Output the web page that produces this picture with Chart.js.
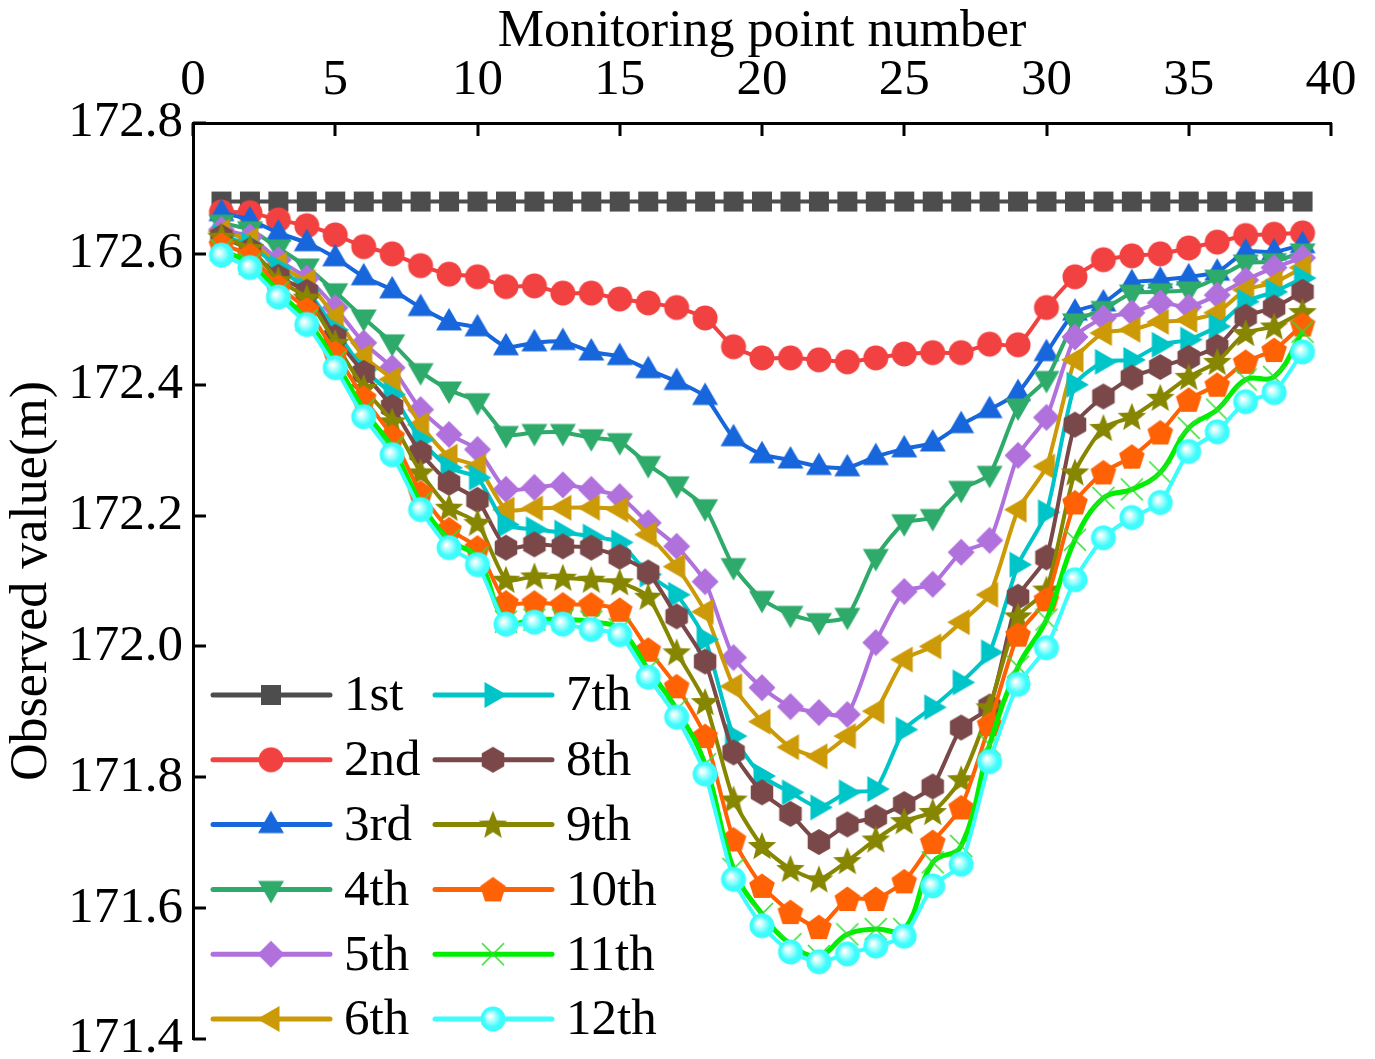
<!DOCTYPE html>
<html>
<head>
<meta charset="utf-8">
<script src="https://cdn.jsdelivr.net/npm/chart.js@4/dist/chart.umd.min.js"></script>
<style>
html, body { margin: 0; padding: 0; background: #fff; }
</style>
</head>
<body>
<canvas id="c" width="1375" height="1059"></canvas>
<script>
// monitoring point numbers (x)
var pointNo = [1,2,3,4,5,6,7,8,9,10,11,12,13,14,15,16,17,18,19,20,21,22,23,24,25,26,27,28,29,30,31,32,33,34,35,36,37,38,39];

var names = ['1st','2nd','3rd','4th','5th','6th','7th','8th','9th','10th','11th','12th'];

var xTicks = [0, 5, 10, 15, 20, 25, 30, 35, 40];
var yTicks = [171.4, 171.6, 171.8, 172.0, 172.2, 172.4, 172.6, 172.8];

// observed values (m) per survey
var s1 = [172.68,172.68,172.68,172.68,172.68,172.68,172.68,172.68,172.68,172.68,172.68,172.68,172.68,172.68,172.68,172.68,172.68,172.68,172.68,172.68,172.68,172.68,172.68,172.68,172.68,172.68,172.68,172.68,172.68,172.68,172.68,172.68,172.68,172.68,172.68,172.68,172.68,172.68,172.68];
var s2 = [172.664,172.663,172.652,172.643,172.629,172.611,172.600,172.582,172.569,172.565,172.550,172.551,172.540,172.540,172.531,172.525,172.518,172.502,172.458,172.441,172.441,172.438,172.435,172.441,172.447,172.449,172.449,172.462,172.461,172.518,172.565,172.591,172.597,172.600,172.609,172.618,172.628,172.630,172.632];
var s3 = [172.663,172.652,172.632,172.617,172.594,172.565,172.545,172.518,172.496,172.487,172.458,172.464,172.466,172.450,172.443,172.423,172.405,172.382,172.319,172.293,172.285,172.275,172.273,172.290,172.302,172.311,172.339,172.362,172.388,172.449,172.511,172.525,172.556,172.560,172.565,172.572,172.603,172.603,172.614];
var s4 = [172.647,172.637,172.609,172.580,172.542,172.502,172.464,172.420,172.392,172.374,172.324,172.327,172.327,172.319,172.313,172.278,172.247,172.212,172.122,172.072,172.049,172.038,172.046,172.136,172.189,172.197,172.240,172.263,172.366,172.408,172.496,172.515,172.540,172.542,172.545,172.563,172.586,172.588,172.603];
var s5 = [172.637,172.626,172.591,172.563,172.518,172.464,172.426,172.362,172.324,172.301,172.240,172.243,172.247,172.240,172.229,172.189,172.153,172.099,171.983,171.937,171.908,171.899,171.896,172.006,172.084,172.095,172.144,172.162,172.292,172.350,172.473,172.502,172.510,172.525,172.519,172.537,172.560,172.579,172.594];
var s6 = [172.634,172.621,172.583,172.557,172.504,172.443,172.408,172.339,172.290,172.275,172.209,172.211,172.212,172.212,172.209,172.171,172.122,172.053,171.939,171.885,171.846,171.832,171.863,171.901,171.980,172.000,172.037,172.079,172.209,172.275,172.438,172.479,172.484,172.496,172.499,172.510,172.545,172.556,172.579];
var s7 = [172.627,172.614,172.579,172.545,172.484,172.423,172.385,172.316,172.273,172.258,172.186,172.179,172.174,172.168,172.159,172.110,172.079,172.011,171.863,171.802,171.777,171.754,171.777,171.782,171.873,171.907,171.945,171.991,172.125,172.205,172.400,172.435,172.438,172.461,172.469,172.489,172.527,172.542,172.563];
var s8 = [172.626,172.606,172.565,172.542,172.473,172.418,172.366,172.296,172.250,172.224,172.151,172.156,172.153,172.151,172.137,172.113,172.046,171.977,171.838,171.777,171.744,171.701,171.728,171.739,171.759,171.786,171.876,171.908,172.076,172.136,172.339,172.382,172.411,172.427,172.441,172.458,172.504,172.518,172.542];
var s9 = [172.626,172.609,172.560,172.533,172.464,172.395,172.344,172.266,172.212,172.189,172.102,172.107,172.105,172.102,172.098,172.076,171.991,171.915,171.766,171.695,171.660,171.644,171.672,171.705,171.733,171.747,171.797,171.907,172.046,172.087,172.266,172.334,172.351,172.380,172.412,172.435,172.479,172.489,172.511];
var s10 = [172.614,172.598,172.550,172.515,172.449,172.380,172.321,172.235,172.179,172.151,172.067,172.067,172.064,172.064,172.056,171.995,171.939,171.863,171.705,171.634,171.594,171.571,171.614,171.614,171.641,171.701,171.754,171.881,172.018,172.072,172.220,172.266,172.290,172.327,172.377,172.400,172.435,172.453,172.492];
var s11 = [172.606,172.585,172.542,172.499,172.435,172.362,172.304,172.220,172.163,172.136,172.038,172.041,172.041,172.038,172.026,171.965,171.904,171.820,171.660,171.591,171.545,171.527,171.560,171.568,171.568,171.670,171.695,171.850,171.969,172.041,172.163,172.227,172.240,172.266,172.334,172.362,172.408,172.412,172.481];
var s12 = [172.598,172.579,172.534,172.492,172.426,172.351,172.293,172.209,172.151,172.125,172.034,172.037,172.034,172.026,172.018,171.953,171.892,171.805,171.644,171.573,171.533,171.518,171.530,171.542,171.557,171.634,171.667,171.824,171.942,171.998,172.102,172.166,172.197,172.220,172.298,172.328,172.374,172.388,172.450];

var series = [s1, s2, s3, s4, s5, s6, s7, s8, s9, s10, s11, s12];
var colors = ['#4d4d4d','#f24141','#1766dc','#2eaa6a','#b071dc','#cc9a06','#00c5c8','#7a4848','#868600','#ff6205','#00ee00','#3dfcfc'];
var shapes = ['square','circle','triUp','triDown','diamond','triLeft','triRight','hexagon','star','pentagon','cross','ball'];

var FONT = "'Liberation Serif', 'Times New Roman', serif";

function polygon(g, cx, cy, n, r, start) {
  g.beginPath();
  for (var k = 0; k < n; k++) {
    var a = start + k * 2 * Math.PI / n;
    var px = cx + r * Math.cos(a), py = cy + r * Math.sin(a);
    if (k == 0) g.moveTo(px, py); else g.lineTo(px, py);
  }
  g.closePath();
  g.fill();
}

function drawShape(g, shape, color, cx, cy) {
  g.fillStyle = color;
  g.strokeStyle = color;
  if (shape == 'square') {
    g.fillRect(cx - 10, cy - 10, 20, 20);
  } else if (shape == 'circle') {
    g.beginPath(); g.arc(cx, cy, 12.5, 0, Math.PI * 2); g.fill();
  } else if (shape == 'triUp') {
    polygon(g, cx, cy + 1, 3, 15, -Math.PI / 2);
  } else if (shape == 'triDown') {
    polygon(g, cx, cy - 1, 3, 15, Math.PI / 2);
  } else if (shape == 'triLeft') {
    polygon(g, cx + 1, cy, 3, 15, Math.PI);
  } else if (shape == 'triRight') {
    polygon(g, cx - 1, cy, 3, 15, 0);
  } else if (shape == 'diamond') {
    polygon(g, cx, cy, 4, 13.5, -Math.PI / 2);
  } else if (shape == 'hexagon') {
    polygon(g, cx, cy, 6, 13, -Math.PI / 2);
  } else if (shape == 'pentagon') {
    polygon(g, cx, cy + 1, 5, 13.5, -Math.PI / 2);
  } else if (shape == 'star') {
    g.beginPath();
    for (var k = 0; k < 10; k++) {
      var a = -Math.PI / 2 + k * Math.PI / 5;
      var r = (k % 2 == 0) ? 15 : 6.5;
      var px = cx + r * Math.cos(a), py = cy + 1 + r * Math.sin(a);
      if (k == 0) g.moveTo(px, py); else g.lineTo(px, py);
    }
    g.closePath(); g.fill();
  } else if (shape == 'cross') {
    g.strokeStyle = '#33dd33';
    g.lineWidth = 1.6;
    g.beginPath();
    g.moveTo(cx - 11, cy - 11); g.lineTo(cx + 11, cy + 11);
    g.moveTo(cx + 11, cy - 11); g.lineTo(cx - 11, cy + 11);
    g.stroke();
  } else if (shape == 'ball') {
    var grd = g.createRadialGradient(cx - 3, cy - 3, 1, cx, cy, 12.5);
    grd.addColorStop(0, '#ffffff');
    grd.addColorStop(0.35, '#9ffefe');
    grd.addColorStop(0.7, color);
    grd.addColorStop(1, color);
    g.fillStyle = grd;
    g.beginPath(); g.arc(cx, cy, 12.5, 0, Math.PI * 2); g.fill();
  }
}

function makeMarker(shape, color) {
  var c = document.createElement('canvas');
  c.width = 34; c.height = 34;
  drawShape(c.getContext('2d'), shape, color, 17, 17);
  return c;
}

var markers = shapes.map(function (s, i) { return makeMarker(s, colors[i]); });

var datasets = [];
for (var i = 0; i < series.length; i++) {
  var pts = [];
  for (var j = 0; j < pointNo.length; j++) {
    pts.push({ x: pointNo[j], y: series[i][j] });
  }
  datasets.push({
    label: names[i],
    data: pts,
    borderColor: colors[i],
    backgroundColor: colors[i],
    borderWidth: i == 10 ? 5 : 4,
    pointStyle: markers[i],
    pointRadius: 12,
    tension: i == 10 ? 0.4 : 0.2,
    order: 12 - i
  });
}

// inward tick marks on left and top axes
var inwardTicks = {
  id: 'inwardTicks',
  afterDraw: function (chart) {
    var ctx = chart.ctx, xs = chart.scales.x, ys = chart.scales.y;
    var area = chart.chartArea;
    ctx.save();
    ctx.strokeStyle = '#000';
    ctx.lineWidth = 3;
    ctx.beginPath();
    xTicks.forEach(function (v) {
      var px = Math.round(xs.getPixelForValue(v));
      ctx.moveTo(px, area.top); ctx.lineTo(px, area.top + 13);
    });
    yTicks.forEach(function (v) {
      var py = Math.round(ys.getPixelForValue(v));
      ctx.moveTo(area.left, py); ctx.lineTo(area.left + 13, py);
    });
    ctx.stroke();
    ctx.restore();
  }
};

// legend inside the plot, two columns of six
var inLegend = {
  id: 'inLegend',
  afterDraw: function (chart) {
    var ctx = chart.ctx, area = chart.chartArea;
    ctx.save();
    ctx.font = '51px ' + FONT;
    ctx.fillStyle = '#000';
    ctx.textBaseline = 'middle';
    ctx.lineCap = 'round';
    for (var i = 0; i < names.length; i++) {
      var col = Math.floor(i / 6), row = i % 6;
      var x0 = area.left + 20 + col * 222;
      var y = area.top + 572 + row * 64.8;
      ctx.strokeStyle = colors[i];
      ctx.lineWidth = 5;
      ctx.beginPath();
      ctx.moveTo(x0, y); ctx.lineTo(x0 + 117, y);
      ctx.stroke();
      ctx.drawImage(markers[i], x0 + 58 - 17, y - 17);
      ctx.fillText(names[i], x0 + 131, y + 2);
    }
    ctx.restore();
  }
};

new Chart(document.getElementById('c'), {
  type: 'line',
  data: { datasets: datasets },
  plugins: [inwardTicks, inLegend],
  options: {
    responsive: false,
    devicePixelRatio: 1,
    animation: false,
    layout: { padding: { left: 0, top: 0, right: 44, bottom: 20 } },
    plugins: {
      legend: { display: false },
      tooltip: { enabled: false }
    },
    scales: {
      x: {
        type: 'linear',
        position: 'top',
        min: 0,
        max: 40,
        afterFit: function (s) { s.height = 123; s.paddingLeft = 0; s.paddingRight = 0; },
        afterBuildTicks: function (s) { s.ticks = xTicks.map(function (v) { return { value: v }; }); },
        grid: { drawOnChartArea: false, drawTicks: false },
        border: { display: true, color: '#000', width: 3 },
        ticks: { color: '#000', font: { family: FONT, size: 51 }, padding: 12, maxRotation: 0 },
        title: { display: true, text: 'Monitoring point number', color: '#000', font: { family: FONT, size: 52 }, padding: { top: 1, bottom: 0 } }
      },
      y: {
        min: 171.4,
        max: 172.8,
        afterFit: function (s) { s.width = 193; s.paddingTop = 0; s.paddingBottom = 0; },
        afterBuildTicks: function (s) { s.ticks = yTicks.map(function (v) { return { value: v }; }); },
        grid: { drawOnChartArea: false, drawTicks: false },
        border: { display: true, color: '#000', width: 3 },
        ticks: { color: '#000', font: { family: FONT, size: 51 }, padding: 10, callback: function (v) { return v.toFixed(1); } },
        title: { display: true, text: 'Observed value(m)', color: '#000', font: { family: FONT, size: 52 }, padding: { top: 1, bottom: 0 } }
      }
    }
  }
});
</script>
</body>
</html>
